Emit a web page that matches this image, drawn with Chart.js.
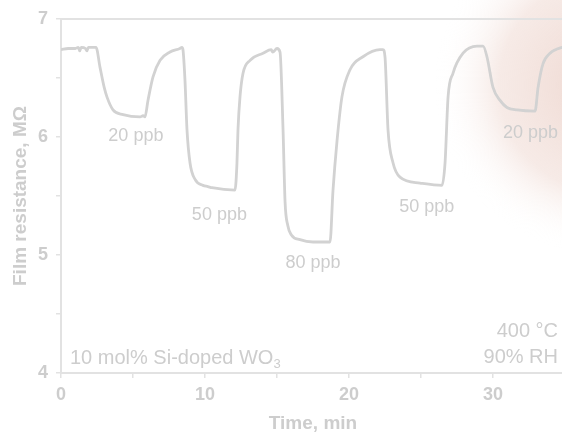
<!DOCTYPE html>
<html>
<head>
<meta charset="utf-8">
<style>
  html, body { margin: 0; padding: 0; background: #fff; overflow: hidden; }
  #wrap { position: relative; width: 657px; height: 434px; }
</style>
<script src="https://cdn.jsdelivr.net/npm/chart.js@4"></script>
</head>
<body>
<div id="wrap"><canvas id="chart" width="657" height="434"></canvas></div>
<script>
// time in minutes, film resistance in MOhm
const timeMin = [0, 0.5, 1.0, 1.2, 1.3, 1.4, 1.7, 1.8, 1.9, 2.43, 2.71, 3.0, 3.19, 3.61, 4.31, 5.49, 5.7, 5.83,
  6.04, 6.39, 6.88, 7.57, 8.26, 8.4, 8.47, 8.61, 8.75, 8.96, 9.31, 9.86, 10.2, 10.49, 12.08, 12.22, 12.29,
  12.43, 12.64, 13.13, 14.03, 14.6, 14.7, 15.0, 15.21, 15.42, 15.56, 15.75, 16.0, 16.6, 17.5, 18.68, 18.89, 19.17,
  19.51, 20.07, 20.97, 22.15, 22.36, 22.5, 22.71, 23.06, 23.54, 24.93, 26.46, 26.67, 26.88, 27.22, 27.92,
  28.89, 29.31, 29.58, 30.0, 30.49, 30.97, 31.67, 32.92, 33.13, 33.47, 33.96, 34.79, 35.5];
const resistance = [6.74, 6.75, 6.75, 6.76, 6.73, 6.76, 6.75, 6.73, 6.76, 6.76, 6.59, 6.42, 6.34, 6.23, 6.19, 6.17, 6.18, 6.17,
  6.31, 6.51, 6.65, 6.72, 6.75, 6.76, 6.74, 6.48, 6.06, 5.78, 5.64, 5.59, 5.58, 5.57, 5.55, 5.78, 6.06,
  6.34, 6.54, 6.65, 6.71, 6.74, 6.72, 6.75, 6.72, 6.06, 5.45, 5.25, 5.17, 5.13, 5.11, 5.11, 5.55, 5.97,
  6.34, 6.57, 6.68, 6.74, 6.74, 6.68, 6.06, 5.78, 5.66, 5.61, 5.59, 5.78, 6.34, 6.54, 6.71,
  6.77, 6.77, 6.68, 6.42, 6.31, 6.25, 6.23, 6.22, 6.42, 6.62, 6.71, 6.76, 6.77];

const concLabels = ["20 ppb", "50 ppb", "80 ppb", "50 ppb", "20 ppb"];
const concX = [5.2, 11.0, 17.5, 25.4, 32.6];
const concY = [6.01, 5.34, 4.93, 5.41, 6.03];

const xTicks = [0, 10, 20, 30];
const yTicks = [4, 5, 6, 7];

const grey = "#cdcdcd";
const font = "Liberation Sans, Arial, sans-serif";

const extras = {
  id: "extras",
  beforeDraw(chart) {
    const c = chart.ctx;
    // pinkish smudge top right
    c.save();
    c.translate(605, 85);
    const g = c.createRadialGradient(0, 0, 10, 0, 0, 170);
    g.addColorStop(0, "rgba(232,200,190,0.7)");
    g.addColorStop(0.6, "rgba(238,214,206,0.5)");
    g.addColorStop(1, "rgba(255,255,255,0)");
    c.fillStyle = g;
    c.fillRect(-200, -200, 400, 400);
    c.restore();
  },
  afterDraw(chart) {
    const c = chart.ctx, xs = chart.scales.x, ys = chart.scales.y, a = chart.chartArea;
    c.save();
    // top frame line
    c.strokeStyle = "#e2e2e2";
    c.lineWidth = 2;
    c.beginPath();
    c.moveTo(a.left, a.top);
    c.lineTo(a.right, a.top);
    c.stroke();

    c.fillStyle = grey;
    c.textAlign = "center";
    c.textBaseline = "middle";
    c.font = "18px " + font;
    concLabels.forEach((t, i) => c.fillText(t, xs.getPixelForValue(concX[i]), ys.getPixelForValue(concY[i])));

    // x axis title, centred on the visible part of the axis
    c.font = "bold 19px " + font;
    c.fillText("Time, min", 313, 424);

    c.font = "20px " + font;
    c.textAlign = "left";
    c.textBaseline = "alphabetic";
    const txt = "10 mol% Si-doped WO";
    c.fillText(txt, 70, 364);
    const w = c.measureText(txt).width;
    c.font = "13px " + font;
    c.fillText("3", 70 + w, 368);

    c.font = "20px " + font;
    c.textAlign = "right";
    c.fillText("400 °C", 558, 337);
    c.fillText("90% RH", 558, 363);
    c.restore();
  }
};

new Chart(document.getElementById("chart"), {
  type: "line",
  data: {
    labels: timeMin,
    datasets: [{
      data: timeMin.map((t, i) => ({ x: t, y: resistance[i] })),
      borderColor: "#d2d2d2",
      borderWidth: 2.8,
      pointRadius: 0,
      cubicInterpolationMode: "monotone",
      fill: false
    }]
  },
  options: {
    responsive: false,
    animation: false,
    layout: { padding: { top: 19, right: 20, left: 0, bottom: 0 } },
    plugins: { legend: { display: false }, tooltip: { enabled: false } },
    scales: {
      x: {
        type: "linear",
        min: 0, max: 40,
        afterFit: s => { s.height = 61; },
        afterBuildTicks: s => { s.ticks = [0, 5, 10, 15, 20, 25, 30, 35, 40].map(v => ({ value: v })); },
        ticks: {
          color: grey,
          font: { family: font, size: 18, weight: "bold" },
          padding: 6,
          maxRotation: 0,
          callback: v => xTicks.includes(v) ? String(v) : ""
        },
        grid: { display: true, drawOnChartArea: false, tickLength: 5, color: "#e2e2e2", lineWidth: 1.5 },
        border: { color: "#e2e2e2", width: 2 },
        title: { display: false }
      },
      y: {
        min: 4, max: 7,
        afterFit: s => { s.width = 61; },
        afterBuildTicks: s => { s.ticks = [4, 4.5, 5, 5.5, 6, 6.5, 7].map(v => ({ value: v })); },
        ticks: {
          color: grey,
          font: { family: font, size: 18, weight: "bold" },
          padding: 8,
          callback: v => yTicks.includes(v) ? String(v) : ""
        },
        grid: { display: true, drawOnChartArea: false, tickLength: 5, color: "#e2e2e2", lineWidth: 1.5 },
        border: { color: "#e2e2e2", width: 2 },
        title: { display: true, text: "Film resistance, MΩ", color: grey, font: { family: font, size: 19, weight: "bold", lineHeight: 1 }, padding: { top: 11, bottom: 11 } }
      }
    }
  },
  plugins: [extras]
});
</script>
</body>
</html>
